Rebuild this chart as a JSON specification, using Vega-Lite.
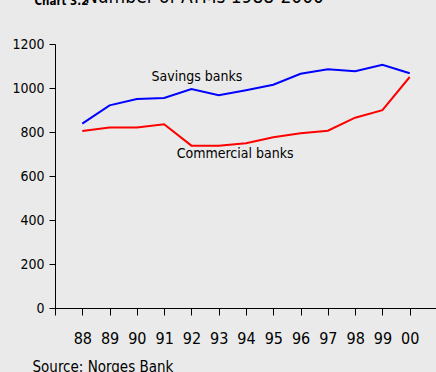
{
  "$schema": "https://vega.github.io/schema/vega-lite/v6.json",
  "autosize": {"type": "none"},
  "width": 382,
  "height": 264,
  "padding": {"left": 55, "top": 44, "right": 0, "bottom": 64},
  "background": "#EAEAEA",
  "title": {
    "text": "Number of ATMs 1988-2000",
    "anchor": "start",
    "frame": "group",
    "dx": 30,
    "dy": 27,
    "offset": 0,
    "font": "Liberation Sans Narrow, DejaVu Sans Condensed, Liberation Sans, sans-serif",
    "fontSize": 19,
    "fontWeight": "normal",
    "color": "#000000",
    "baseline": "alphabetic"
  },
  "datasets": {
    "atms": [
      {"year": 1988, "series": "Savings banks", "value": 838},
      {"year": 1989, "series": "Savings banks", "value": 921},
      {"year": 1990, "series": "Savings banks", "value": 950},
      {"year": 1991, "series": "Savings banks", "value": 955},
      {"year": 1992, "series": "Savings banks", "value": 995},
      {"year": 1993, "series": "Savings banks", "value": 967},
      {"year": 1994, "series": "Savings banks", "value": 990},
      {"year": 1995, "series": "Savings banks", "value": 1015},
      {"year": 1996, "series": "Savings banks", "value": 1065},
      {"year": 1997, "series": "Savings banks", "value": 1085},
      {"year": 1998, "series": "Savings banks", "value": 1076},
      {"year": 1999, "series": "Savings banks", "value": 1105},
      {"year": 2000, "series": "Savings banks", "value": 1067},
      {"year": 1988, "series": "Commercial banks", "value": 805},
      {"year": 1989, "series": "Commercial banks", "value": 820},
      {"year": 1990, "series": "Commercial banks", "value": 820},
      {"year": 1991, "series": "Commercial banks", "value": 835},
      {"year": 1992, "series": "Commercial banks", "value": 738},
      {"year": 1993, "series": "Commercial banks", "value": 737},
      {"year": 1994, "series": "Commercial banks", "value": 749},
      {"year": 1995, "series": "Commercial banks", "value": 776},
      {"year": 1996, "series": "Commercial banks", "value": 794},
      {"year": 1997, "series": "Commercial banks", "value": 806},
      {"year": 1998, "series": "Commercial banks", "value": 865},
      {"year": 1999, "series": "Commercial banks", "value": 899},
      {"year": 2000, "series": "Commercial banks", "value": 1050}
    ],
    "labels": [
      {"year": 1992.2, "value": 1048, "series": "Savings banks"},
      {"year": 1993.6, "value": 699, "series": "Commercial banks"}
    ]
  },
  "encoding": {
    "x": {
      "field": "year",
      "type": "quantitative",
      "scale": {"domain": [1987, 2001], "nice": false, "zero": false},
      "axis": {
        "values": [1987, 1988, 1989, 1990, 1991, 1992, 1993, 1994, 1995, 1996, 1997, 1998, 1999, 2000, 2001],
        "labelExpr": "datum.value >= 1988 && datum.value <= 2000 ? substring(toString(datum.value), 2) : ''",
        "grid": false,
        "ticks": true,
        "tickSize": 7,
        "tickWidth": 1,
        "labelPadding": 15,
        "labelFont": "Liberation Sans Narrow, DejaVu Sans Condensed, Liberation Sans, sans-serif",
        "labelFontSize": 16,
        "labelColor": "#000000",
        "domainColor": "#000000",
        "tickColor": "#000000",
        "labelFlush": false,
        "labelOverlap": false,
        "title": "Source: Norges Bank",
        "titleFont": "Liberation Sans Narrow, DejaVu Sans Condensed, Liberation Sans, sans-serif",
        "titleFontSize": 15,
        "titleFontWeight": "normal",
        "titleColor": "#000000",
        "titleAlign": "left",
        "titleAnchor": "start",
        "titleBaseline": "alphabetic",
        "titleX": -23,
        "titleY": 63
      }
    },
    "y": {
      "field": "value",
      "type": "quantitative",
      "scale": {"domain": [0, 1200], "nice": false},
      "axis": {
        "values": [0, 200, 400, 600, 800, 1000, 1200],
        "format": "d",
        "grid": false,
        "ticks": true,
        "tickSize": 6,
        "tickWidth": 1,
        "labelPadding": 5,
        "labelFont": "Liberation Sans Narrow, DejaVu Sans Condensed, Liberation Sans, sans-serif",
        "labelFontSize": 14,
        "labelColor": "#000000",
        "domainColor": "#000000",
        "tickColor": "#000000",
        "labelFlush": false,
        "labelOverlap": false,
        "title": "Chart 3.2",
        "titleAngle": 0,
        "titleFont": "Liberation Sans Narrow, DejaVu Sans Condensed, Liberation Sans, sans-serif",
        "titleFontSize": 11.5,
        "titleFontWeight": "bold",
        "titleColor": "#000000",
        "titleAlign": "left",
        "titleBaseline": "alphabetic",
        "titleX": -21,
        "titleY": -40
      }
    }
  },
  "layer": [
    {
      "data": {"name": "atms"},
      "mark": {"type": "line", "strokeWidth": 2},
      "encoding": {
        "color": {
          "field": "series",
          "type": "nominal",
          "scale": {"domain": ["Savings banks", "Commercial banks"], "range": ["#0000FF", "#FF0000"]},
          "legend": null
        }
      }
    },
    {
      "data": {"name": "labels"},
      "mark": {"type": "text", "font": "Liberation Sans Narrow, DejaVu Sans Condensed, Liberation Sans, sans-serif", "fontSize": 14, "color": "#000000", "align": "center", "baseline": "middle"},
      "encoding": {
        "text": {"field": "series"}
      }
    }
  ],
  "config": {"view": {"stroke": null}}
}
